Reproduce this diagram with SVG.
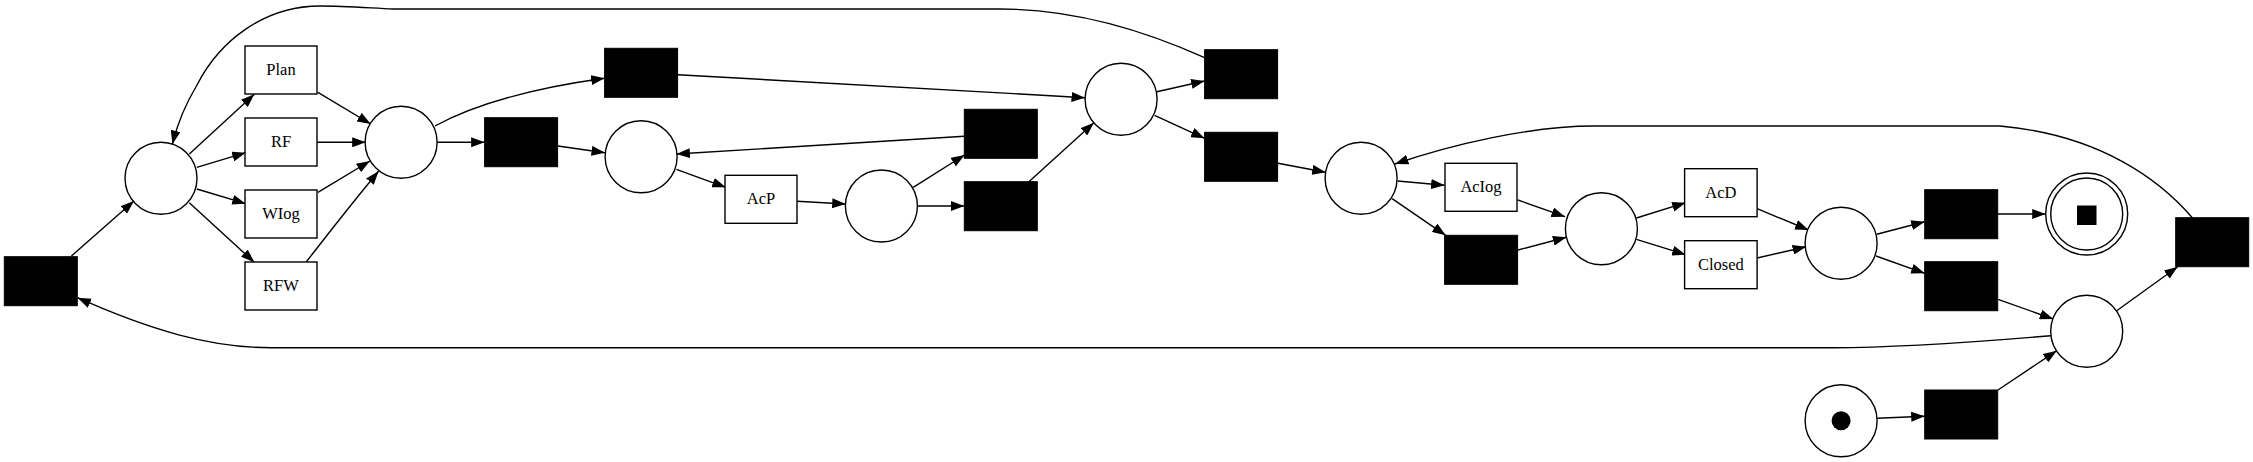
<svg xmlns="http://www.w3.org/2000/svg" width="2253" height="462" viewBox="0 0 2253 462">
<style>
.pl{fill:#fff;stroke:#000;stroke-width:1.4}
.tb{fill:#000;stroke:#000;stroke-width:1}
.tl{fill:#fff;stroke:#000;stroke-width:1.4}
.lb{font-family:"Liberation Serif","Times New Roman",serif;font-size:16.5px;text-anchor:middle;fill:#000}
.e{fill:none;stroke:#000;stroke-width:1.4;marker-end:url(#a)}
</style>
<defs>
<marker id="a" markerWidth="14" markerHeight="10" refX="13.5" refY="5" orient="auto" markerUnits="userSpaceOnUse">
<path d="M0,0L13.5,5L0,10z" fill="#000"/>
</marker>
</defs>
<rect width="2253" height="462" fill="#fff"/>
<g id="edges">
<path class="e" d="M71.4,256L133.9,201"/>
<path class="e" d="M189.3,154L254.3,94.3"/>
<path class="e" d="M196.8,167.3L245.7,152.7"/>
<path class="e" d="M196.8,189L245.7,203.7"/>
<path class="e" d="M189.3,202.7L254.3,262.3"/>
<path class="e" d="M317.9,92.3L370.7,124"/>
<path class="e" d="M317.1,142.3L365.7,142.3"/>
<path class="e" d="M317.9,192.3L370,161"/>
<path class="e" d="M306.4,261.7C325,238 352,203 378.6,171.3"/>
<path class="e" d="M437.1,142.3L484.6,142.3"/>
<path class="e" d="M435,126C470,107 520,90 604.6,78.3"/>
<path class="e" d="M557.9,146L605,152.7"/>
<path class="e" d="M676.4,169.3L725.7,187.3"/>
<path class="e" d="M797.1,201.3L845.7,204"/>
<path class="e" d="M913.2,187.3L964.6,155"/>
<path class="e" d="M917.9,206L964.3,206"/>
<path class="e" d="M964.3,136.3L676.4,154"/>
<path class="e" d="M677.9,74.7L1085,97.7"/>
<path class="e" d="M1028.9,181.7L1093.9,122.7"/>
<path class="e" d="M1156.8,91.7L1204.6,81"/>
<path class="e" d="M1154.6,115.3L1204.6,138.3"/>
<path class="e" d="M1204.6,57.7C1150,33 1080,9 1000,9L393,9C370,8 345,6 320,6C265,6 220,40 197,85C185,105 177,125 172.5,144"/>
<path class="e" d="M1277.9,163.3L1325.7,172.3"/>
<path class="e" d="M1397.5,181L1444.6,185.3"/>
<path class="e" d="M1392.1,198.7L1445.7,235.3"/>
<path class="e" d="M1517.9,200L1565,216.7"/>
<path class="e" d="M1517.9,250L1566.4,237.3"/>
<path class="e" d="M1636.4,218L1685.7,202.7"/>
<path class="e" d="M1636.4,239.3L1685.7,254.7"/>
<path class="e" d="M1757.1,208.7L1808.6,230"/>
<path class="e" d="M1757.1,258L1806.1,246.7"/>
<path class="e" d="M1876.7,234.3L1924.7,221.7"/>
<path class="e" d="M1876,256L1924.7,273.3"/>
<path class="e" d="M1998,214L2045.7,214"/>
<path class="e" d="M1998,299.3L2053.3,319"/>
<path class="e" d="M2116.7,310.7L2177.7,266.7"/>
<path class="e" d="M2192.3,217.7C2160,180 2100,135 2000,126L1594,126C1530,126 1450,145 1395,164"/>
<path class="e" d="M2050.7,335.7C2000,340 1900,347.7 1833,347.7L271,347.7C210,347.7 150,330 77.5,297.7"/>
<path class="e" d="M1877.3,418.3L1924.7,416.3"/>
<path class="e" d="M1998,390L2056.7,350.7"/>
</g>
<g id="p1"><circle class="pl" cx="161" cy="178.3" r="36"/></g>
<g id="p2"><circle class="pl" cx="401.1" cy="142.3" r="36"/></g>
<g id="p3"><circle class="pl" cx="641.1" cy="156.7" r="36"/></g>
<g id="p4"><circle class="pl" cx="881.4" cy="206" r="36"/></g>
<g id="p5"><circle class="pl" cx="1121.1" cy="99.3" r="36"/></g>
<g id="p6"><circle class="pl" cx="1361.1" cy="178.3" r="36"/></g>
<g id="p7"><circle class="pl" cx="1601.4" cy="228.7" r="36"/></g>
<g id="p8"><circle class="pl" cx="1841.1" cy="243.3" r="36"/></g>
<g id="p9"><circle class="pl" cx="2086.7" cy="331.3" r="36"/></g>
<g id="source"><circle class="pl" cx="1841.1" cy="420.7" r="36"/><circle cx="1841.1" cy="420.7" r="9.5" fill="#000"/></g>
<g id="sink"><circle class="pl" cx="2086.7" cy="214" r="41"/><circle class="pl" cx="2086.7" cy="214" r="36"/><rect x="2077" y="205.5" width="19.5" height="19.5" fill="#000"/></g>
<g id="tL"><rect class="tb" x="4.3" y="256.7" width="73" height="49"/></g>
<g id="t2"><rect class="tb" x="484.6" y="117.7" width="73" height="49"/></g>
<g id="t3"><rect class="tb" x="604.6" y="48.3" width="73" height="49"/></g>
<g id="t4"><rect class="tb" x="964.3" y="109.3" width="73" height="49"/></g>
<g id="t5"><rect class="tb" x="964.3" y="181.7" width="73" height="49"/></g>
<g id="t6"><rect class="tb" x="1204.6" y="49.7" width="73" height="49"/></g>
<g id="t7"><rect class="tb" x="1204.6" y="132.3" width="73" height="49"/></g>
<g id="t8"><rect class="tb" x="1444.6" y="235.3" width="73" height="49"/></g>
<g id="t9"><rect class="tb" x="1924.7" y="189.7" width="73" height="49"/></g>
<g id="t10"><rect class="tb" x="1924.7" y="261.7" width="73" height="49"/></g>
<g id="t11"><rect class="tb" x="2175.7" y="217.7" width="73" height="49"/></g>
<g id="tS"><rect class="tb" x="1924.7" y="390" width="73" height="49"/></g>
<g id="Plan"><rect class="tl" x="245" y="46" width="72" height="48"/><text class="lb" x="281" y="75">Plan</text></g>
<g id="RF"><rect class="tl" x="245" y="118" width="72" height="48"/><text class="lb" x="281" y="147">RF</text></g>
<g id="WIog"><rect class="tl" x="245" y="190" width="72" height="48"/><text class="lb" x="281" y="219">WIog</text></g>
<g id="RFW"><rect class="tl" x="245" y="262" width="72" height="48"/><text class="lb" x="281" y="291">RFW</text></g>
<g id="AcP"><rect class="tl" x="725" y="175.3" width="72" height="48"/><text class="lb" x="761" y="204.3">AcP</text></g>
<g id="AcIog"><rect class="tl" x="1445" y="163.3" width="72" height="48"/><text class="lb" x="1481" y="192.3">AcIog</text></g>
<g id="AcD"><rect class="tl" x="1684.6" y="168.7" width="72.5" height="48"/><text class="lb" x="1720.8" y="197.7">AcD</text></g>
<g id="Closed"><rect class="tl" x="1684.6" y="240.7" width="72.5" height="48"/><text class="lb" x="1720.8" y="269.7">Closed</text></g>
</svg>
